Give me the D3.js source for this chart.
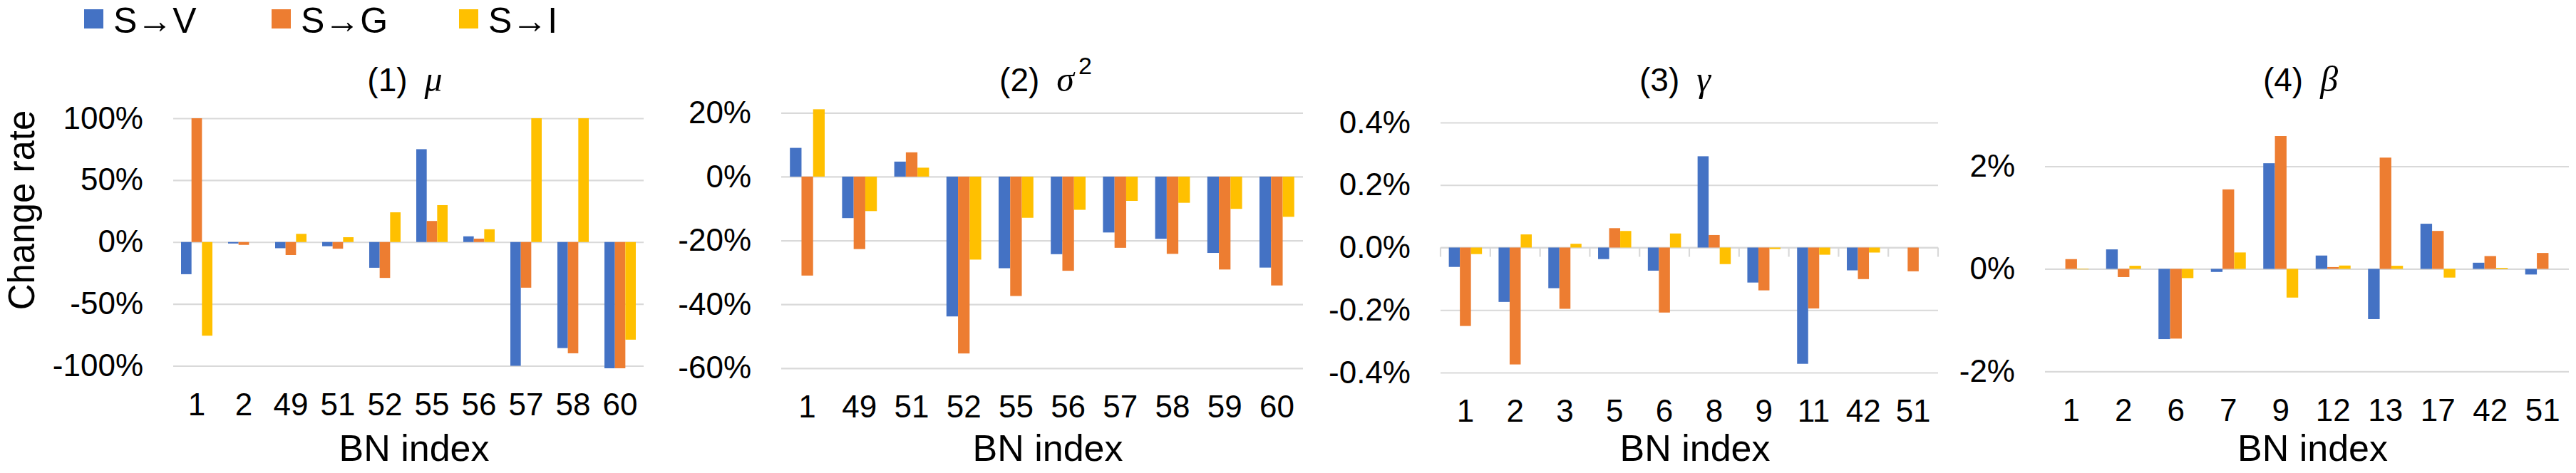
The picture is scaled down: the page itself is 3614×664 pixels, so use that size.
<!DOCTYPE html>
<html>
<head>
<meta charset="utf-8">
<script src="https://cdn.jsdelivr.net/npm/d3@7"></script>
<style>
  html, body { margin: 0; padding: 0; background: #fff; }
  svg { display: block; }
</style>
</head>
<body>
<svg id="chart" width="3614" height="664"></svg>
<script>
// Series names and colours (Office palette)
const seriesNames = ["S\u2192V", "S\u2192G", "S\u2192I"];
const seriesColors = ["#4472C4", "#ED7D31", "#FFC000"];

// (1) mu
const muCats = ["1", "2", "49", "51", "52", "55", "56", "57", "58", "60"];
const muV = [-0.26, -0.012, -0.05, -0.034, -0.208, 0.75, 0.046, -1.0, -0.857, -1.02];
const muG = [1.0, -0.023, -0.105, -0.054, -0.29, 0.17, 0.027, -0.369, -0.899, -1.02];
const muI = [-0.757, 0, 0.066, 0.039, 0.24, 0.298, 0.103, 1.0, 1.0, -0.789];
const muTicks = [-1, -0.5, 0, 0.5, 1];

// (2) sigma^2
const sigCats = ["1", "49", "51", "52", "55", "56", "57", "58", "59", "60"];
const sigV = [0.09, -0.13, 0.047, -0.438, -0.287, -0.243, -0.175, -0.195, -0.239, -0.285];
const sigG = [-0.31, -0.227, 0.076, -0.554, -0.374, -0.295, -0.223, -0.242, -0.291, -0.341];
const sigI = [0.211, -0.108, 0.028, -0.26, -0.129, -0.104, -0.076, -0.082, -0.101, -0.126];
const sigTicks = [-0.6, -0.4, -0.2, 0, 0.2];

// (3) gamma
const gamCats = ["1", "2", "3", "5", "6", "8", "9", "11", "42", "51"];
const gamV = [-0.00062, -0.00174, -0.0013, -0.00037, -0.00074, 0.00292, -0.00112, -0.00372, -0.00073, 0];
const gamG = [-0.00251, -0.00374, -0.00196, 0.00062, -0.00208, 0.0004, -0.00137, -0.00195, -0.00101, -0.00076];
const gamI = [-0.00021, 0.00042, 0.00012, 0.00053, 0.00045, -0.00053, -0.00005, -0.00023, -0.00016, 0];
const gamTicks = [-0.004, -0.002, 0, 0.002, 0.004];

// (4) beta
const betCats = ["1", "2", "6", "7", "9", "12", "13", "17", "42", "51"];
const betV = [0, 0.0038, -0.0137, -0.0006, 0.0206, 0.0026, -0.0098, 0.0088, 0.0012, -0.0011];
const betG = [0.0019, -0.0016, -0.0136, 0.0155, 0.0259, 0.00035, 0.0217, 0.0074, 0.0025, 0.0031];
const betI = [-0.0001, 0.0006, -0.0018, 0.0032, -0.0056, 0.00065, 0.0006, -0.0017, 0.0002, 0];
const betTicks = [-0.02, 0, 0.02];

// Panel table: data + where each plot sits
const panels = [
    { num: "(1)", sym: "\u03bc", cats: muCats, series: [muV, muG, muI], ticks: muTicks, dec: 0,
      domain: [-1, 1], left: 243, right: 903, top: 166, bottom: 513.5, titleDx: -5, catTicks: false },
    { num: "(2)", sym: "\u03c3", sup: "2", cats: sigCats, series: [sigV, sigG, sigI], ticks: sigTicks, dec: 0,
      domain: [-0.6, 0.2], left: 1096, right: 1828, top: 158.3, bottom: 516.8, titleDx: 5, catTicks: false },
    { num: "(3)", sym: "\u03b3", cats: gamCats, series: [gamV, gamG, gamI], ticks: gamTicks, dec: 1,
      domain: [-0.004, 0.004], left: 2021, right: 2719, top: 172, bottom: 523, titleDx: -20, catTicks: true },
    { num: "(4)", sym: "\u03b2", cats: betCats, series: [betV, betG, betI], ticks: betTicks, dec: 0,
      domain: [-0.02, 0.03], left: 2869, right: 3604, top: 161.5, bottom: 521.4, titleDx: -9, catTicks: false }
];

const FONT = "'Liberation Sans', Arial, sans-serif";
const MATH = "'Liberation Serif', 'DejaVu Serif', serif";
const GRID = "#d9d9d9";

const svg = d3.select("#chart");

// Legend across the top left
const legend = svg.append("g");
seriesNames.forEach(function (name, i) {
    const lx = 118 + i * 263;
    legend.append("rect")
          .attr("x", lx).attr("y", 13)
          .attr("width", 27).attr("height", 27)
          .attr("fill", seriesColors[i]);
    legend.append("text")
          .attr("x", lx + 41).attr("y", 46)
          .attr("font-family", FONT).attr("font-size", 50)
          .text(name);
});

// Shared y-axis title
svg.append("text")
   .attr("transform", "translate(48,295) rotate(-90)")
   .attr("text-anchor", "middle")
   .attr("font-family", FONT).attr("font-size", 51)
   .text("Change rate");

function pct(dec) {
    return d => (d * 100).toFixed(dec) + "%";
}

panels.forEach(function (p) {
    const g = svg.append("g");
    const w = p.right - p.left;

    const y = d3.scaleLinear().domain(p.domain).range([p.bottom, p.top]);
    const x0 = d3.scaleBand().domain(p.cats).range([p.left, p.right])
                 .paddingInner(1 / 3).paddingOuter(1 / 6);
    const x1 = d3.scaleBand().domain(d3.range(seriesNames.length)).range([0, x0.bandwidth()]);

    // Gridlines + y tick labels
    g.append("g")
     .attr("transform", `translate(${p.left},0)`)
     .call(d3.axisLeft(y).tickValues(p.ticks).tickSize(-w).tickPadding(42).tickFormat(pct(p.dec)))
     .call(a => a.select(".domain").remove())
     .call(a => a.selectAll("line").attr("stroke", GRID).attr("stroke-width", 2.2))
     .call(a => a.selectAll("text").attr("fill", "#000"))
     .attr("font-family", FONT).attr("font-size", 44);

    // Category axis labels
    g.append("g")
     .attr("transform", `translate(0,${p.bottom})`)
     .call(d3.axisBottom(x0).tickSize(0).tickPadding(38))
     .call(a => a.select(".domain").remove())
     .call(a => a.selectAll("text").attr("fill", "#000"))
     .attr("font-family", FONT).attr("font-size", 44);

    // Zero line with category separators (panel 3 only)
    if (p.catTicks) {
        g.append("line")
         .attr("x1", p.left).attr("x2", p.right)
         .attr("y1", y(0)).attr("y2", y(0))
         .attr("stroke", GRID).attr("stroke-width", 2.2);
        const edges = p.cats.map(c => x0(c) - x0.step() * (1 / 6)).concat([p.right]);
        g.selectAll(".cat-tick")
         .data(edges)
         .join("line")
         .attr("x1", d => d).attr("x2", d => d)
         .attr("y1", y(0)).attr("y2", y(0) + 13)
         .attr("stroke", GRID).attr("stroke-width", 2.2);
    }

    // Bars
    p.series.forEach(function (vals, si) {
        g.append("g")
         .attr("fill", seriesColors[si])
         .selectAll("rect")
         .data(vals)
         .join("rect")
         .attr("x", (d, i) => x0(p.cats[i]) + x1(si))
         .attr("width", x1.bandwidth())
         .attr("y", d => Math.min(y(d), y(0)))
         .attr("height", d => Math.abs(y(d) - y(0)));
    });

    // Panel title
    const t = g.append("text")
               .attr("x", (p.left + p.right) / 2 + p.titleDx).attr("y", 128)
               .attr("text-anchor", "middle")
               .attr("font-family", FONT).attr("font-size", 46);
    t.append("tspan").text(p.num);
    t.append("tspan").attr("dx", 24)
     .attr("font-family", MATH).attr("font-style", "italic").attr("font-size", 50)
     .text(p.sym);
    if (p.sup) {
        t.append("tspan").attr("dx", 6).attr("dy", -24)
         .attr("font-size", 34).text(p.sup);
    }

    // x-axis title
    g.append("text")
     .attr("x", (p.left + p.right) / 2 + 8).attr("y", 647)
     .attr("text-anchor", "middle")
     .attr("font-family", FONT).attr("font-size", 52)
     .text("BN index");
});
</script>
</body>
</html>
